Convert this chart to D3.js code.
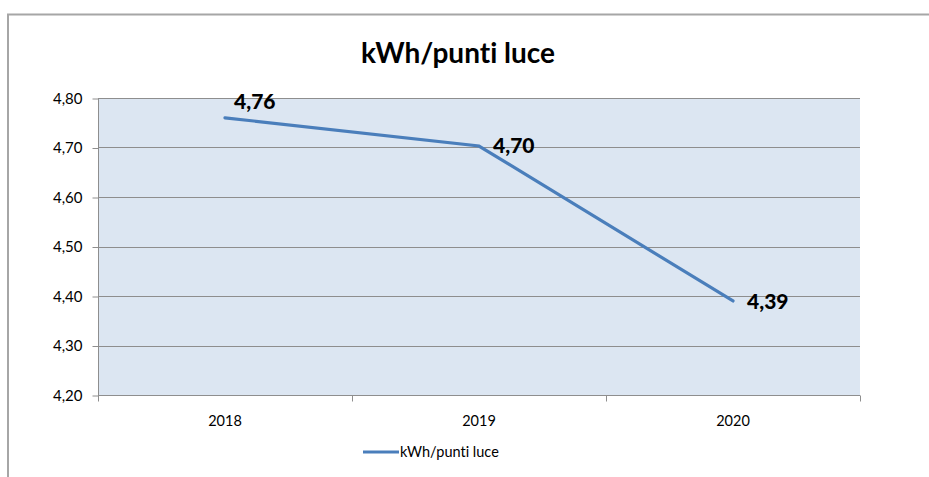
<!DOCTYPE html>
<html>
  <head>
    <title>kWh/punti luce</title>
    <script src="https://cdnjs.cloudflare.com/ajax/libs/d3/7.8.5/d3.min.js"></script>
    <style>
      body { margin:0; background:#fff; }
      text { font-family: Lato, "Open Sans", sans-serif; font-variant-ligatures: none; }
    </style>
  </head>
  <body>
    <script>
      // data
      var years = ["2018", "2019", "2020"];
      var values = [4.76, 4.703, 4.39];
      var labels = ["4,76", "4,70", "4,39"];
      var yTicks = [4.2, 4.3, 4.4, 4.5, 4.6, 4.7, 4.8];
      var seriesName = "kWh/punti luce";

      var W = 929, H = 477;
      var svg = d3.select("body").append("svg")
                  .attr("width", W)
                  .attr("height", H);

      // outer chart frame
      svg.append("path")
         .attr("d", "M8,480 L8,14.5 L935,14.5")
         .attr("fill", "none")
         .attr("stroke", "#a6a6a6")
         .attr("stroke-width", 2);

      var pLeft = 98, pRight = 860, pTop = 98, pBottom = 395;

      var x = d3.scaleBand().domain(years).range([pLeft, pRight]);
      var y = d3.scaleLinear().domain([4.2, 4.8]).range([pBottom, pTop]);

      // plot background
      svg.append("rect")
         .attr("x", pLeft).attr("y", pTop)
         .attr("width", pRight - pLeft).attr("height", pBottom - pTop)
         .attr("fill", "#dce6f2");

      // gridlines
      svg.append("g").selectAll("line")
         .data(yTicks.slice(1))
         .enter().append("line")
         .attr("x1", pLeft).attr("x2", pRight)
         .attr("y1", function(d){ return Math.round(y(d)) + 0.5; })
         .attr("y2", function(d){ return Math.round(y(d)) + 0.5; })
         .attr("stroke", "#8e8e8e")
         .attr("stroke-width", 1);

      // y axis
      var yAxis = svg.append("g")
         .attr("transform", "translate(" + (pLeft + 0.5) + ",0.5)")
         .call(d3.axisLeft(y).tickValues(yTicks).tickSize(6).tickPadding(10)
               .tickFormat(function(d){ return d3.format(".2f")(d).replace(".", ","); }));
      yAxis.selectAll("line, path").attr("stroke", "#8e8e8e");
      yAxis.select(".domain").attr("d", "M0," + pBottom + "V" + pTop);
      yAxis.selectAll("text").attr("font-size", 15).attr("fill", "#000")
           .attr("font-family", "Lato, sans-serif");

      // x axis
      var xAxis = svg.append("g")
         .attr("transform", "translate(0," + (pBottom + 0.5) + ")")
         .call(d3.axisBottom(x).tickSize(0).tickPadding(20));
      xAxis.select(".domain").attr("stroke", "#8e8e8e").attr("d", "M" + pLeft + ",0H" + pRight);
      xAxis.selectAll("text").attr("font-size", 14.5).attr("fill", "#000")
           .attr("font-family", "Lato, sans-serif");
      // category boundary ticks
      var bounds = years.map(function(d){ return x(d); }).concat([pRight]);
      xAxis.selectAll(".bound").data(bounds).enter().append("line")
           .attr("class", "bound")
           .attr("x1", function(d){ return Math.round(d) + 0.5; })
           .attr("x2", function(d){ return Math.round(d) + 0.5; })
           .attr("y1", 0).attr("y2", 6)
           .attr("stroke", "#8e8e8e");

      // line
      var pts = years.map(function(d, i){ return [x(d) + x.bandwidth() / 2, y(values[i])]; });
      svg.append("path")
         .datum(pts)
         .attr("d", d3.line())
         .attr("fill", "none")
         .attr("stroke", "#4a7ebb")
         .attr("stroke-width", 3.2)
         .attr("stroke-linecap", "round");

      // data labels
      var offs = [[9, -9], [14, 7], [14, 8]];
      svg.selectAll(".dlab").data(pts).enter().append("text")
         .attr("class", "dlab")
         .attr("x", function(d, i){ return d[0] + offs[i][0]; })
         .attr("y", function(d, i){ return d[1] + offs[i][1]; })
         .attr("font-size", 21)
         .attr("font-weight", 900)
         .text(function(d, i){ return labels[i]; });

      // title
      svg.append("text")
         .attr("x", 458).attr("y", 63)
         .attr("text-anchor", "middle")
         .attr("font-size", 28)
         .attr("font-weight", "bold")
         .text(seriesName);

      // legend
      svg.append("line")
         .attr("x1", 363).attr("x2", 399)
         .attr("y1", 452).attr("y2", 452)
         .attr("stroke", "#4a7ebb")
         .attr("stroke-width", 3.2);
      svg.append("text")
         .attr("x", 400).attr("y", 457)
         .attr("font-size", 14.5)
         .text(seriesName);
    </script>
  </body>
</html>
